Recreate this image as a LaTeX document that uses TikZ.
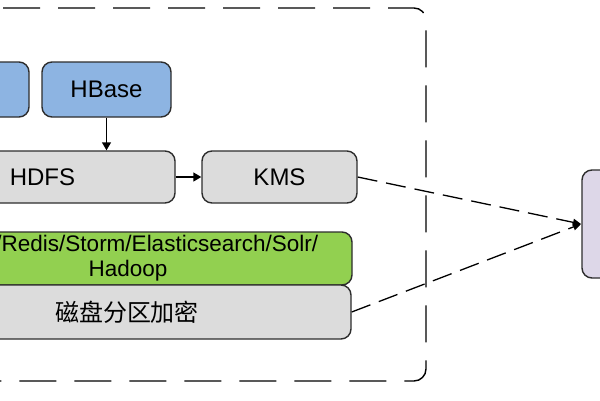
\documentclass[tikz,border=0pt]{standalone}
\usepackage{fontspec}
\setmainfont{Liberation Sans}
\newfontfamily\cjk{Noto Sans CJK SC}
\usetikzlibrary{arrows.meta}
\definecolor{bluefill}{RGB}{141,180,226}
\definecolor{grayfill}{RGB}{220,220,220}
\definecolor{greenfill}{RGB}{146,208,80}
\definecolor{purplefill}{RGB}{221,215,232}
\definecolor{edge}{RGB}{45,45,45}
\begin{document}
\begin{tikzpicture}[x=1pt,y=-1pt,
  boxstyle/.style={draw=edge,line width=1.4pt,rounded corners=10pt,inner sep=0pt,
    font=\fontsize{24}{25}\selectfont,align=center},
  solidarrow/.style={line width=1.4pt,-{Triangle[length=8pt,width=9pt]}},
  dasharrow/.style={line width=1.3pt,dash pattern=on 20pt off 9pt,-{Triangle[length=8pt,width=7pt]}},
  container/.style={draw=black,line width=1.4pt,dash pattern=on 37pt off 18pt,rounded corners=12pt}]
\useasboundingbox (0,0) rectangle (600,400);
\clip (0,0) rectangle (600,400);
\fill[white] (0,0) rectangle (600,400);
\draw[container] (-120,8) rectangle (426,381);
\node[boxstyle,fill=bluefill,minimum width=129pt,minimum height=55pt] (blue1) at (-35.5,89.5) {};
\node[boxstyle,fill=bluefill,minimum width=129pt,minimum height=55pt] (hbase) at (106.5,89.5) {HBase};
\node[boxstyle,fill=grayfill,minimum width=265pt,minimum height=52pt] (hdfs) at (42.5,177) {HDFS};
\node[boxstyle,fill=grayfill,minimum width=155pt,minimum height=52pt] (kms) at (279.5,177) {KMS};
\node[boxstyle,fill=greenfill,minimum width=448pt,minimum height=53pt,font=\fontsize{22.5}{25}\selectfont] (green) at (128,258.5) {Kafka/Redis/Storm/Elasticsearch/Solr/\\Hadoop};
\node[boxstyle,fill=grayfill,minimum width=448pt,minimum height=54pt] (disk) at (127,312) {\cjk\fontsize{24}{26}\selectfont 磁盘分区加密};
\node[boxstyle,fill=purplefill,minimum width=130pt,minimum height=108pt] (right) at (647,224) {};
\coordinate (meet) at (581,224);
\draw[solidarrow] (hbase.south) -- (hbase.south |- hdfs.north);
\draw[solidarrow] (hdfs.east) -- (kms.west);
\draw[dasharrow] (kms.east) -- (meet);
\draw[dasharrow] (disk.east) -- (meet);
\end{tikzpicture}
\end{document}
